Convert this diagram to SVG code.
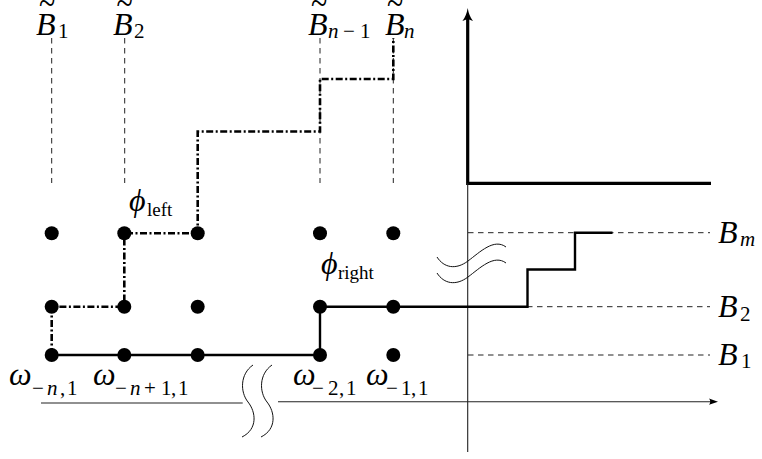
<svg xmlns="http://www.w3.org/2000/svg" width="762" height="459" viewBox="0 0 762 459">
<style>
.dot{fill:#000}
.thin{stroke:#222;stroke-width:1.1;fill:none}
.dashed{stroke:#222;stroke-width:1;stroke-dasharray:5.5 4.5;fill:none}
.dashdot{stroke:#000;stroke-width:2.6;stroke-dasharray:7 2.5 2 2.5;fill:none}
.solid{stroke:#000;stroke-width:2.4;fill:none}
.thick{stroke:#000;stroke-width:3.2;fill:none}
.brk{stroke:#111;stroke-width:1;fill:none}
text{font-family:"Liberation Serif","DejaVu Serif",serif;fill:#000}
.m{font-style:italic;font-size:32px}
.s{font-style:normal;font-size:21px}
.si{font-style:italic;font-size:21px}
.sl{font-style:normal;font-size:19px}
.tl{font-style:normal;font-size:26px}
</style>
<rect width="762" height="459" fill="#fff"/>

<g id="guides">
<path class="dashed" d="M51.7,38V183M124.7,38V183M320,38V183M393.3,38V183"/>
<path class="dashed" d="M468,232.7H710M527,306.7H710M468,355H710"/>
</g>

<g id="axes">
<path class="thick" d="M467.7,18V183.3H711"/>
<path d="M467.7,8 Q469,16 473,21 L467.7,19 L462.4,21 Q466.4,16 467.7,8Z" fill="#000"/>
<path class="thin" d="M467.7,183.3V452"/>
<path class="thin" d="M41,403H242.7"/>
<path class="thin" d="M278,401.7H712"/>
<path d="M718,401.7 L709,398.6 Q711.5,401.7 709,404.8Z" fill="#000"/>
<path class="brk" d="M253,365 C240,374 240,392 248,402 C256,412 258,429 242,437"/>
<path class="brk" d="M272,365 C259,374 259,392 267,402 C275,412 277,429 261,437"/>
<path class="brk" d="M437,257 C444,268 456,270 468,261 S494,238 506,247"/>
<path class="brk" d="M437,273 C444,284 456,286 468,277 S494,254 506,263"/>
</g>

<g id="connectors">
<path class="dashdot" d="M51.7,355V306.7H124.3V233.3H197.7V131.5H320V79H393.3V38"/>
<path class="solid" d="M51.7,355H320V306.7H527.5V269.5H575V232.7H612.5"/>
</g>

<g id="nodes">
<g id="n-1-1"><circle class="dot" cx="51.7" cy="355" r="7"/></g>
<g id="n-2-1"><circle class="dot" cx="124.3" cy="355" r="7"/></g>
<g id="n-3-1"><circle class="dot" cx="197.7" cy="355" r="7"/></g>
<g id="n-4-1"><circle class="dot" cx="320" cy="355" r="7"/></g>
<g id="n-5-1"><circle class="dot" cx="393.3" cy="355" r="7"/></g>
<g id="n-1-2"><circle class="dot" cx="51.7" cy="306.7" r="7"/></g>
<g id="n-2-2"><circle class="dot" cx="124.3" cy="306.7" r="7"/></g>
<g id="n-3-2"><circle class="dot" cx="197.7" cy="306.7" r="7"/></g>
<g id="n-4-2"><circle class="dot" cx="320" cy="306.7" r="7"/></g>
<g id="n-5-2"><circle class="dot" cx="393.3" cy="306.7" r="7"/></g>
<g id="n-1-3"><circle class="dot" cx="51.7" cy="233.3" r="7"/></g>
<g id="n-2-3"><circle class="dot" cx="124.3" cy="233.3" r="7"/></g>
<g id="n-3-3"><circle class="dot" cx="197.7" cy="233.3" r="7"/></g>
<g id="n-4-3"><circle class="dot" cx="320" cy="233.3" r="7"/></g>
<g id="n-5-3"><circle class="dot" cx="393.3" cy="233.3" r="7"/></g>
</g>

<g id="labels">
<g id="lbl-Bt1">
<text class="tl" text-anchor="middle" transform="translate(47,3.5) scale(1.15,1.4)" y="8.3">~</text>
<text class="m" x="36" y="35">B<tspan class="s" x="58" y="38">1</tspan></text>
</g>
<g id="lbl-Bt2">
<text class="tl" text-anchor="middle" transform="translate(124.5,3.5) scale(1.15,1.4)" y="8.3">~</text>
<text class="m" x="113" y="35">B<tspan class="s" x="134" y="38">2</tspan></text>
</g>
<g id="lbl-Btn1">
<text class="tl" text-anchor="middle" transform="translate(319,3.5) scale(1.15,1.4)" y="8.3">~</text>
<text class="m" x="308" y="35">B<tspan class="si" x="328" y="38">n</tspan><tspan class="s" x="343" y="38">−</tspan><tspan class="s" x="360" y="38">1</tspan></text>
</g>
<g id="lbl-Btn">
<text class="tl" text-anchor="middle" transform="translate(395,3.5) scale(1.15,1.4)" y="8.3">~</text>
<text class="m" x="385" y="35">B<tspan class="si" x="404" y="38">n</tspan></text>
</g>
<g id="lbl-phileft">
<text class="m" x="129" y="211">ϕ<tspan class="sl" x="147" y="216">left</tspan></text>
</g>
<g id="lbl-phiright">
<text class="m" x="321" y="274">ϕ<tspan class="sl" x="338" y="279">right</tspan></text>
</g>
<g id="lbl-w1">
<text class="m" x="9" y="385">ω<tspan class="s" x="32" y="395">−</tspan><tspan class="si" x="47" y="395">n</tspan><tspan class="s" x="60" y="395">,</tspan><tspan class="s" x="67" y="395">1</tspan></text>
</g>
<g id="lbl-w2">
<text class="m" x="93" y="385">ω<tspan class="s" x="115" y="395">−</tspan><tspan class="si" x="130" y="395">n</tspan><tspan class="s" x="144" y="395">+</tspan><tspan class="s" x="161" y="395">1</tspan><tspan class="s" x="171" y="395">,</tspan><tspan class="s" x="178" y="395">1</tspan></text>
</g>
<g id="lbl-w3">
<text class="m" x="293" y="385">ω<tspan class="s" x="312" y="395">−</tspan><tspan class="s" x="328" y="395">2</tspan><tspan class="s" x="339" y="395">,</tspan><tspan class="s" x="346" y="395">1</tspan></text>
</g>
<g id="lbl-w4">
<text class="m" x="366" y="385">ω<tspan class="s" x="386" y="395">−</tspan><tspan class="s" x="401" y="395">1</tspan><tspan class="s" x="411" y="395">,</tspan><tspan class="s" x="418" y="395">1</tspan></text>
</g>
<g id="lbl-Bm">
<text class="m" x="718" y="243">B<tspan class="si" x="740" y="246">m</tspan></text>
</g>
<g id="lbl-B2">
<text class="m" x="718" y="317">B<tspan class="s" x="740" y="321">2</tspan></text>
</g>
<g id="lbl-B1">
<text class="m" x="718" y="365">B<tspan class="s" x="741" y="368">1</tspan></text>
</g>
</g>
</svg>
